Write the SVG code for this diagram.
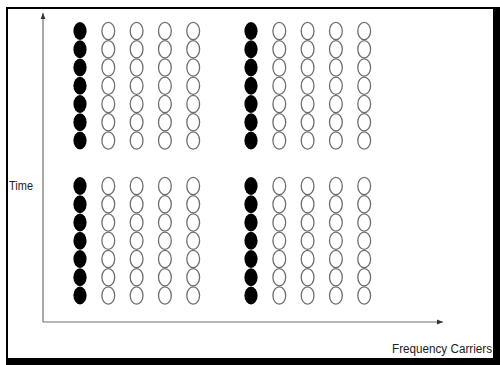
<svg xmlns="http://www.w3.org/2000/svg" xmlns:xlink="http://www.w3.org/1999/xlink" width="500" height="365" viewBox="0 0 500 365">
<style>
.fill{fill:#000}
.open{fill:#fff;stroke:#6e6e6e;stroke-width:1.3}
.axis{stroke:#707070;stroke-width:1.2;fill:none}
.lbl{font-family:"Liberation Sans",Arial,sans-serif;font-size:12.5px;fill:#222}
</style>
<defs>
<g id="colF" class="fill">
<ellipse cx="0" cy="0" rx="6.6" ry="9"/>
<ellipse cx="0" cy="18.25" rx="6.6" ry="9"/>
<ellipse cx="0" cy="36.5" rx="6.6" ry="9"/>
<ellipse cx="0" cy="54.75" rx="6.6" ry="9"/>
<ellipse cx="0" cy="73" rx="6.6" ry="9"/>
<ellipse cx="0" cy="91.25" rx="6.6" ry="9"/>
<ellipse cx="0" cy="109.5" rx="6.6" ry="9"/>
</g>
<g id="colO" class="open">
<ellipse cx="0" cy="0" rx="6.4" ry="8.6"/>
<ellipse cx="0" cy="18.25" rx="6.4" ry="8.6"/>
<ellipse cx="0" cy="36.5" rx="6.4" ry="8.6"/>
<ellipse cx="0" cy="54.75" rx="6.4" ry="8.6"/>
<ellipse cx="0" cy="73" rx="6.4" ry="8.6"/>
<ellipse cx="0" cy="91.25" rx="6.4" ry="8.6"/>
<ellipse cx="0" cy="109.5" rx="6.4" ry="8.6"/>
</g>
<marker id="arr" viewBox="0 0 10 10" refX="10" refY="5" markerWidth="6" markerHeight="6" markerUnits="userSpaceOnUse" orient="auto">
<path d="M0,1 L10,5 L0,9 Z" fill="#333"/>
</marker>
</defs>
<rect x="0" y="0" width="500" height="365" fill="#fff"/>
<g id="frame">
<rect x="6" y="7" width="494" height="358" fill="#000"/>
<rect x="8" y="9" width="485" height="349" fill="#fff"/>
</g>
<g id="connectors">
<path class="axis" d="M43,322 L43,13" marker-end="url(#arr)"/>
<path class="axis" d="M43,322 L443,322" marker-end="url(#arr)"/>
</g>
<g id="block-top-left">
<use xlink:href="#colF" x="80" y="31"/>
<use xlink:href="#colO" x="108.3" y="31"/>
<use xlink:href="#colO" x="136.6" y="31"/>
<use xlink:href="#colO" x="164.9" y="31"/>
<use xlink:href="#colO" x="193.2" y="31"/>
</g>
<g id="block-top-right">
<use xlink:href="#colF" x="251" y="31"/>
<use xlink:href="#colO" x="279.3" y="31"/>
<use xlink:href="#colO" x="307.6" y="31"/>
<use xlink:href="#colO" x="335.9" y="31"/>
<use xlink:href="#colO" x="364.2" y="31"/>
</g>
<g id="block-bottom-left">
<use xlink:href="#colF" x="80" y="186"/>
<use xlink:href="#colO" x="108.3" y="186"/>
<use xlink:href="#colO" x="136.6" y="186"/>
<use xlink:href="#colO" x="164.9" y="186"/>
<use xlink:href="#colO" x="193.2" y="186"/>
</g>
<g id="block-bottom-right">
<use xlink:href="#colF" x="251" y="186"/>
<use xlink:href="#colO" x="279.3" y="186"/>
<use xlink:href="#colO" x="307.6" y="186"/>
<use xlink:href="#colO" x="335.9" y="186"/>
<use xlink:href="#colO" x="364.2" y="186"/>
</g>
<g id="label-time"><text class="lbl" x="9" y="190" textLength="24" lengthAdjust="spacingAndGlyphs">Time</text></g>
<g id="label-freq"><text class="lbl" x="392" y="353" textLength="100" lengthAdjust="spacingAndGlyphs">Frequency Carriers</text></g>
</svg>
